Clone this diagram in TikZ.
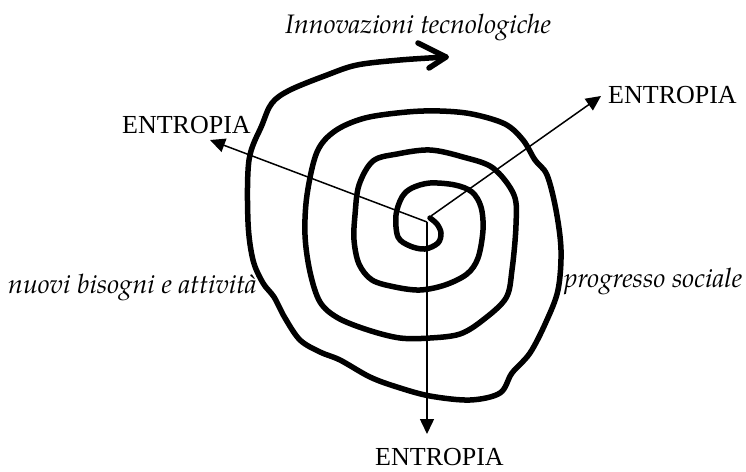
\documentclass[tikz,border=0pt]{standalone}
\usepackage{fontspec}
\setmainfont{Liberation Serif}
\newfontfamily\palfont{TeX Gyre Pagella}
\usetikzlibrary{arrows.meta}
\begin{document}
\begin{tikzpicture}[x=1pt,y=-1pt,
  spiral/.style={line width=5.5pt, line cap=round, line join=round},
  ray/.style={line width=1.5pt, -{Triangle[length=15pt,width=14pt]}},
  lab/.style={font=\fontsize{26}{30}\selectfont, inner sep=0pt, anchor=base west},
  ital/.style={font=\palfont\itshape\fontsize{26.7}{30}\selectfont, inner sep=0pt, anchor=base west}]
\useasboundingbox (0,0) rectangle (746,471);

% labels
\node[lab] (eL) at (122,133) {ENTROPIA};
\node[lab] (eR) at (608,103) {ENTROPIA};
\node[lab] (eB) at (375,465) {ENTROPIA};
\node[ital] (inn) at (285,33) {Innovazioni tecnologiche};
\node[ital] (nuo) at (8,293) {nuovi bisogni e attività};
\node[ital] (pro) at (564,287) {progresso sociale};

% spiral
\draw[spiral] plot[smooth, tension=0.55] coordinates {
 (430,218) (437,224) (441,233) (438,243) (425,249) (410,246) (398,237) (396,215)
 (402,197) (412,188) (430,183) (455,185) (472,192) (481,207) (483,230) (478,258)
 (467,274) (445,285) (420,290) (395,287) (372,280) (359,264) (354,240) (355,215)
 (359,185) (373,161) (397,154) (430,150) (463,157) (493,168) (514,195) (516,225)
 (512,270) (506,298) (483,320) (460,334) (430,338) (400,338) (368,330) (338,318)
 (320,302) (310,272) (305,235) (307,195) (317,152) (335,131) (365,118) (407,112)
 (440,111) (472,114) (505,124) (523,140) (535,160) (547,175) (556,210) (561,250)
 (558,290) (546,322) (530,353) (512,373) (500,393) (470,400) (430,396) (397,387)
 (370,377) (340,360) (320,352) (300,340) (285,318) (274,297) (263,283) (253,260)
 (248,222) (249,160) (262,125) (272,103) (290,90) (327,75) (357,65) (400,60) (446,57)};
\coordinate (sTip) at (446,57);
\coordinate (sB1) at (418,43);
\coordinate (sB2) at (429,68);
\draw[spiral] (sB1) -- (sTip) -- (sB2);

% rays
\coordinate (c) at (427,222);
\coordinate (cR) at (431,216);
\coordinate (tL) at (210,140);
\coordinate (tR) at (601,96);
\coordinate (tB) at (427,434);
\draw[ray] (c) -- (tL);
\draw[ray] (cR) -- (tR);
\draw[ray] (c) -- (tB);
\end{tikzpicture}
\end{document}
